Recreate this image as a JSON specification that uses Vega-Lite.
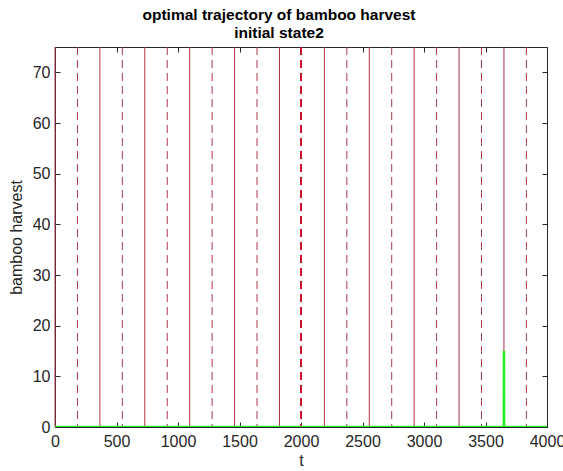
{
  "$schema": "https://vega.github.io/schema/vega-lite/v6.json",
  "width": 492,
  "height": 380,
  "autosize": "none",
  "padding": {"left": 55, "top": 47, "right": 16, "bottom": 44},
  "background": "white",
  "title": {
    "text": ["optimal trajectory of bamboo harvest", "initial state2"],
    "font": "Liberation Sans",
    "fontSize": 15.5,
    "fontWeight": "bold",
    "color": "#000000",
    "lineHeight": 18,
    "anchor": "middle",
    "frame": "group",
    "dx": -22,
    "offset": 5
  },
  "config": {
    "view": {"stroke": "#262626", "strokeWidth": 1},
    "axis": {
      "labelFont": "Liberation Sans",
      "titleFont": "Liberation Sans",
      "labelFontSize": 16,
      "titleFontSize": 16,
      "titleFontWeight": "normal",
      "labelColor": "#262626",
      "titleColor": "#262626",
      "domainColor": "#262626",
      "tickColor": "#262626",
      "grid": false
    }
  },
  "datasets": {
    "yearMarks": [
      {"t": 0}, {"t": 365}, {"t": 730}, {"t": 1095}, {"t": 1460}, {"t": 1825},
      {"t": 2190}, {"t": 2555}, {"t": 2920}, {"t": 3285}, {"t": 3650}
    ],
    "halfYearMarks": [
      {"t": 182.5}, {"t": 547.5}, {"t": 912.5}, {"t": 1277.5}, {"t": 1642.5},
      {"t": 2372.5}, {"t": 2737.5}, {"t": 3102.5}, {"t": 3467.5}, {"t": 3832.5}
    ],
    "switchMark": [{"t": 2000}],
    "harvest": [
      {"t": 0, "h": 0},
      {"t": 3649, "h": 0},
      {"t": 3650, "h": 15},
      {"t": 3651, "h": 0},
      {"t": 4000, "h": 0}
    ]
  },
  "resolve": {"axis": {"x": "independent", "y": "independent"}},
  "layer": [
    {
      "data": {"name": "harvest"},
      "mark": {"type": "point", "opacity": 0},
      "encoding": {
        "x": {
          "field": "t", "type": "quantitative",
          "scale": {"domain": [0, 4000], "nice": false},
          "axis": {"orient": "top", "title": null, "labels": false, "domain": false, "values": [0, 500, 1000, 1500, 2000, 2500, 3000, 3500, 4000], "tickSize": -5}
        },
        "y": {
          "field": "h", "type": "quantitative",
          "scale": {"domain": [0, 75], "nice": false},
          "axis": {"orient": "right", "title": null, "labels": false, "domain": false, "values": [0, 10, 20, 30, 40, 50, 60, 70], "tickSize": -5}
        }
      }
    },
    {
      "data": {"name": "yearMarks"},
      "mark": {"type": "rule", "color": "#ac3446", "strokeWidth": 1},
      "encoding": {
        "x": {"field": "t", "type": "quantitative", "axis": null}
      }
    },
    {
      "data": {"name": "halfYearMarks"},
      "mark": {"type": "rule", "color": "#a83a4c", "strokeWidth": 1, "strokeDash": [8, 5]},
      "encoding": {
        "x": {"field": "t", "type": "quantitative", "axis": null}
      }
    },
    {
      "data": {"name": "switchMark"},
      "mark": {"type": "rule", "color": "#cc1030", "strokeWidth": 2, "strokeDash": [8, 5]},
      "encoding": {
        "x": {"field": "t", "type": "quantitative", "axis": null}
      }
    },
    {
      "data": {"name": "harvest"},
      "mark": {"type": "line", "color": "#22ee22", "strokeWidth": 2.5, "clip": true},
      "encoding": {
        "x": {
          "field": "t", "type": "quantitative",
          "axis": {"title": "t", "format": "d", "values": [0, 500, 1000, 1500, 2000, 2500, 3000, 3500, 4000], "tickSize": -5, "labelPadding": 11, "titlePadding": 3, "labelFlush": false}
        },
        "y": {
          "field": "h", "type": "quantitative",
          "axis": {"title": "bamboo harvest", "format": "d", "values": [0, 10, 20, 30, 40, 50, 60, 70], "tickSize": -5, "labelPadding": 10, "titlePadding": 8}
        }
      }
    }
  ]
}
